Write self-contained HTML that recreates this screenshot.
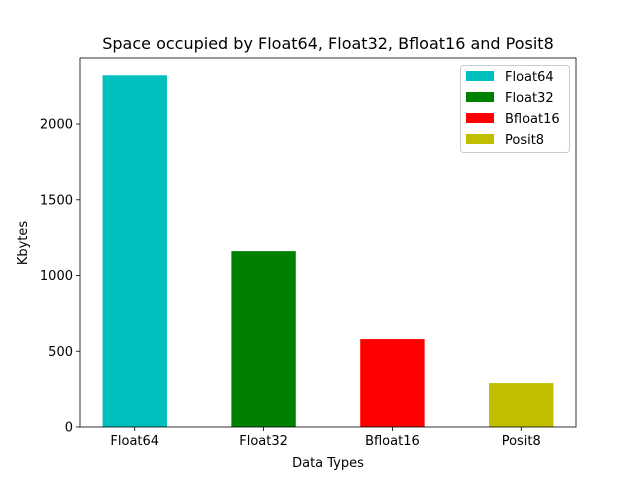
<!DOCTYPE html>
<html><head><meta charset="utf-8"><style>
body{margin:0;background:#fff;}
svg text{font-family:"DejaVu Sans","Liberation Sans",sans-serif;}
</style></head><body>
<svg id="chart" width="640" height="480" xmlns="http://www.w3.org/2000/svg">
<rect width="640" height="480" fill="#fff"/>
<g id="bars"></g>
<g id="axes"></g>
<text x="328" y="49" font-size="16" text-anchor="middle">Space occupied by Float64, Float32, Bfloat16 and Posit8</text>
<text x="328" y="467" font-size="13" text-anchor="middle">Data Types</text>
<text x="27" y="243" font-size="13" text-anchor="middle" transform="rotate(-90 27 243)">Kbytes</text>
<g id="legend"></g>
</svg>
<script>
const categories=["Float64","Float32","Bfloat16","Posit8"];
const values=[2322,1161,580.5,290];
const colors=["#00bfbf","#008000","#ff0000","#bfbf00"];
const yTicks=[0,500,1000,1500,2000];
const L=80,R=576,T=58,B=427;
const xMin=-0.425,xMax=3.425,yMax=2436;
const xs=v=>L+(v-xMin)/(xMax-xMin)*(R-L);
const ys=v=>B-v/yMax*(B-T);
const NS="http://www.w3.org/2000/svg";
function mk(tag,attrs,parent){const e=document.createElementNS(NS,tag);for(const k in attrs)e.setAttribute(k,attrs[k]);parent.appendChild(e);return e;}
const bars=document.getElementById('bars'),axes=document.getElementById('axes'),leg=document.getElementById('legend');
values.forEach((v,i)=>{
 const x0=xs(i-0.25),x1=xs(i+0.25);
 const r=mk('rect',{x:x0,y:ys(v),width:x1-x0,height:B-ys(v),fill:colors[i]},bars);
 
 
 const t=mk('line',{x1:xs(i),x2:xs(i),y1:B,y2:B+4,stroke:'#000','stroke-width':0.8},axes);
 const lb=mk('text',{x:xs(i),y:B+18,'font-size':13,'text-anchor':'middle'},axes);
 lb.textContent=categories[i];
 
 
});
yTicks.forEach(v=>{
 mk('line',{x1:L-4,x2:L,y1:ys(v),y2:ys(v),stroke:'#000','stroke-width':0.8},axes);
 const lb=mk('text',{x:L-7,y:ys(v)+4.5,'font-size':13,'text-anchor':'end'},axes);
 lb.textContent=v;
 
 
});
const fr=mk('rect',{x:L,y:T,width:R-L,height:B-T,fill:'none',stroke:'#000','stroke-width':0.8},axes);


mk('rect',{x:460.5,y:65.5,width:109,height:87,rx:3,fill:'#fff','fill-opacity':0.8,stroke:'#ccc'},leg);
categories.forEach((c,i)=>{
 const y=76+i*21;
 mk('rect',{x:466,y:y-5,width:28,height:10,fill:colors[i]},leg);
 const t=mk('text',{x:505,y:y+5,'font-size':13},leg);
 t.textContent=c;
 
 
});
</script>
</body></html>
